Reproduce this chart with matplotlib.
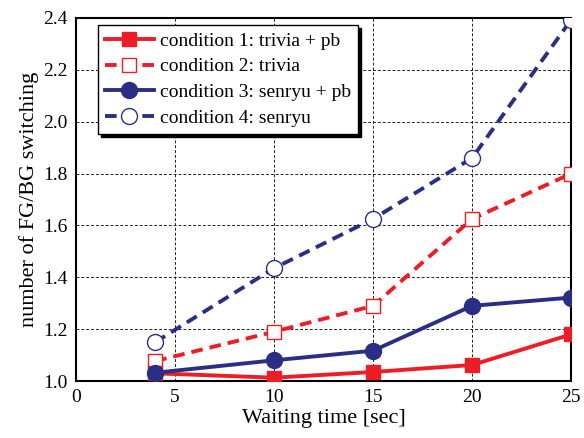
import matplotlib.pyplot as plt

plt.rcParams['font.family'] = ['Liberation Serif', 'DejaVu Serif']

wait_time = [4, 10, 15, 20, 25]
cond1 = [1.03, 1.013, 1.035, 1.062, 1.18]
cond2 = [1.077, 1.19, 1.29, 1.625, 1.80]
cond3 = [1.032, 1.08, 1.117, 1.29, 1.322]
cond4 = [1.15, 1.435, 1.625, 1.86, 2.393]
labels = ["condition 1: trivia + pb", "condition 2: trivia",
          "condition 3: senryu + pb", "condition 4: senryu"]

red = "#ee1c25"
blue = "#2a2f85"

fig = plt.figure(figsize=(5.84, 4.38), dpi=100)
ax = fig.add_axes([0.130, 0.130, 0.848, 0.829])

ax.plot(wait_time, cond1, color=red, lw=2.8, marker='s', ms=10, mfc=red, mec=red, label=labels[0], zorder=5)
ax.plot(wait_time, cond2, color=red, lw=2.8, ls=(0, (3, 1.8)), marker='s', ms=10, mfc='white', mec=red,
        mew=1, label=labels[1], zorder=4)
ax.plot(wait_time, cond3, color=blue, lw=2.8, marker='o', ms=11.5, mfc=blue, mec=blue, label=labels[2], zorder=5)
ax.plot(wait_time, cond4, color=blue, lw=2.8, ls=(0, (3, 1.8)), marker='o', ms=11.5, mfc='white', mec=blue,
        mew=1, label=labels[3], zorder=4)

ax.set_xlim(0, 25)
ax.set_ylim(1.0, 2.4)
ax.set_xticks([0, 5, 10, 15, 20, 25])
ax.set_yticks([1.0, 1.2, 1.4, 1.6, 1.8, 2.0, 2.2, 2.4])
ax.set_yticklabels([f"{v:.1f}" for v in ax.get_yticks()])
ax.grid(True, color='#222222', ls=(0, (3, 2)), lw=0.7)
ax.tick_params(direction='in', length=0, labelsize=14, pad=6)
for s in ax.spines.values():
    s.set_linewidth(1.5)

ax.set_xlabel("Waiting time [sec]", fontsize=16, labelpad=2)
ax.set_ylabel("number of FG/BG switching", fontsize=16, labelpad=3)

leg = ax.legend(loc='upper left', bbox_to_anchor=(0.045, 0.98), fontsize=14, frameon=True, fancybox=False,
                shadow={'color': 'black', 'alpha': 1}, handlelength=2.5, borderpad=0.35, labelspacing=0.42,
                handletextpad=0.35, borderaxespad=0)
leg.get_frame().set_edgecolor('black')
leg.get_frame().set_linewidth(1)

fig.savefig("out.png", dpi=100)
